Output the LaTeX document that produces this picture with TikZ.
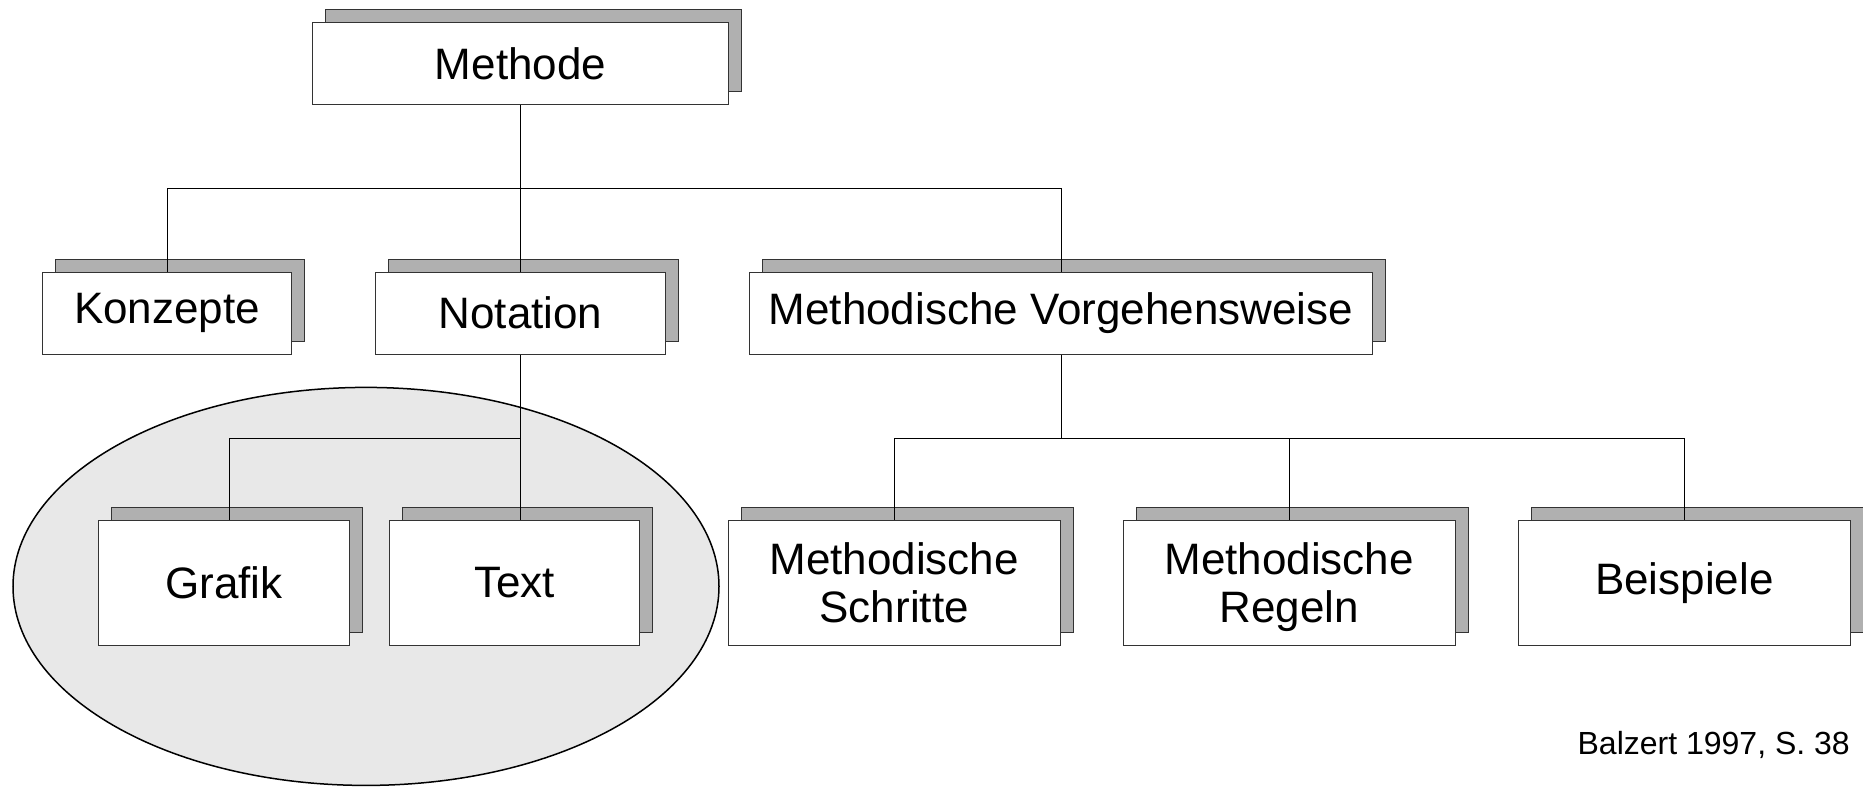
\documentclass[tikz,border=0pt]{standalone}
\usepackage{fontspec}
\setmainfont{Liberation Sans}
\usetikzlibrary{shadows,calc}
\definecolor{shadowgray}{HTML}{B0B0B0}
\definecolor{ellipsegray}{HTML}{E8E8E8}
\begin{document}
\begin{tikzpicture}[x=1pt,y=-1pt,
  box/.style={draw=black!80, line width=1pt, fill=white, inner sep=0pt,
    align=center, font=\fontsize{44}{48.7}\selectfont,
    general shadow={fill=shadowgray, draw=black!80, line width=1pt,
      shadow xshift=13pt, shadow yshift=13pt}},
  topbox/.style={box, minimum height=82pt},
  lowbox/.style={box, minimum height=124.8pt, minimum width=332pt},
  link/.style={draw=black, line width=1pt},
  note/.style={font=\fontsize{32}{38}\selectfont, inner sep=0pt}]
\useasboundingbox (0,0) rectangle (1863,787);

% grouping of the notation forms
\draw[fill=ellipsegray, line width=1.5pt] (366,586.4) ellipse (353 and 199);

% nodes
\node[topbox, minimum width=415.9pt] (methode) at (520.5,63.6) {Methode};
\node[topbox, minimum width=248.3pt] (konzepte) at (167,313.1) {Konzepte};
\node[topbox, minimum width=289.9pt] (notation) at (520.5,313.1) {Notation};
\node[topbox, minimum width=622.7pt] (mv) at (1061,313.1) {Methodische Vorgehensweise};

\node[box, minimum height=124.8pt, minimum width=250.7pt] (grafik) at (224,582.8) {Grafik};
\node[box, minimum height=124.8pt, minimum width=249.5pt] (text) at (514.5,582.8) {Text};
\node[lowbox] (ms) at (894.2,582.8) {Methodische\\Schritte};
\node[lowbox] (mr) at (1289.2,582.8) {Methodische\\Re\smash{g}eln};
\node[lowbox] (bs) at (1684.3,582.8) {Beispiele};

\node[note, anchor=east] (src) at (1850,745) {Balzert 1997, S. 38};

% bus lines
\coordinate (bus1) at (520.5,188.9);
\coordinate (bus2) at (520.5,438.4);
\coordinate (bus3) at (1061,438.4);
\coordinate (gx) at (229.3,438.4);

% connectors
\draw[link] (methode.south) -- (notation.north);
\draw[link] (konzepte.north) -- (konzepte.north |- bus1) -- (mv.north |- bus1) -- (mv.north);
\draw[link] (notation.south) -- (notation.south |- text.north);
\draw[link] (bus2) -- (gx) -- (gx |- grafik.north);
\draw[link] (mv.south) -- (bus3);
\draw[link] (ms.north) -- (ms.north |- bus3) -- (bs.north |- bus3) -- (bs.north);
\draw[link] (mr.north) -- (mr.north |- bus3);
\end{tikzpicture}
\end{document}
